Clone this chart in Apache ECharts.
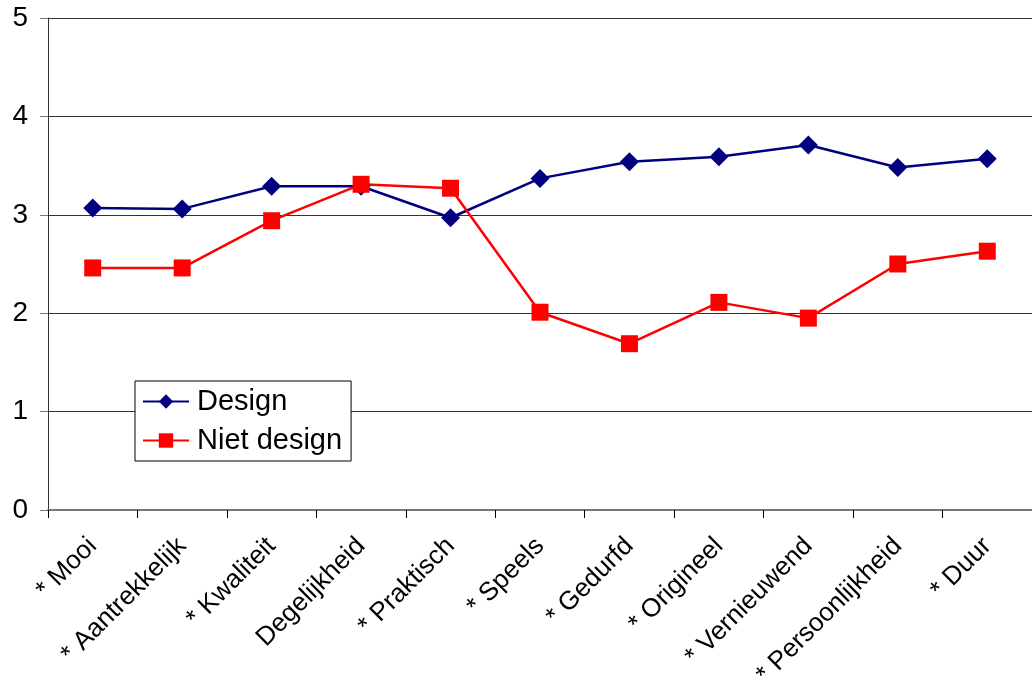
<!DOCTYPE html>
<html>
<head>
<meta charset="utf-8">
<script src="https://cdn.jsdelivr.net/npm/echarts@6/dist/echarts.min.js"></script>
<style>
html, body { margin: 0; padding: 0; background: #fff; }
#container { width: 1032px; height: 686px; }
</style>
</head>
<body>
<div id="container"></div>
<script>
var categories = ['* Mooi', '* Aantrekkelijk', '* Kwaliteit', 'Degelijkheid', '* Praktisch', '* Speels',
    '* Gedurfd', '* Origineel', '* Vernieuwend', '* Persoonlijkheid', '* Duur'];
var designValues = [3.07, 3.06, 3.29, 3.29, 2.97, 3.37, 3.54, 3.59, 3.71, 3.48, 3.57];
var nietDesignValues = [2.46, 2.46, 2.94, 3.31, 3.27, 2.01, 1.69, 2.11, 1.95, 2.50, 2.63];

var dom = document.getElementById("container");
var myChart = echarts.init(dom);

var option = {
    backgroundColor: '#ffffff',
    animation: false,
    textStyle: { fontFamily: 'Liberation Sans, Arial, sans-serif' },
    grid: {
        left: 48,
        right: 0,
        top: 18,
        bottom: 176,
        containLabel: false,
        outerBoundsMode: 'none'
    },
    legend: {
        orient: 'vertical',
        left: 135,
        top: 381,
        width: 214,
        padding: [6, 9, 6, 7],
        itemGap: 10,
        itemWidth: 46,
        itemHeight: 18,
        borderColor: '#000',
        borderWidth: 1,
        backgroundColor: '#fff',
        textStyle: { fontSize: 29, color: '#000', padding: [0, 0, 0, 3], fontFamily: 'Liberation Sans, Arial, sans-serif' },
        data: ['Design', 'Niet design']
    },
    xAxis: {
        type: 'category',
        data: categories,
        boundaryGap: true,
        axisLine: { lineStyle: { color: '#777', width: 2 } },
        axisTick: { show: true, length: 8, lineStyle: { color: '#000' } },
        axisLabel: {
            rotate: 45,
            interval: 0,
            fontSize: 26,
            color: '#000',
            margin: 32
        },
        splitLine: { show: false }
    },
    yAxis: {
        type: 'value',
        min: 0,
        max: 5,
        interval: 1,
        axisLine: { show: true, lineStyle: { color: '#333', width: 1 } },
        axisTick: { show: true, length: 8, lineStyle: { color: '#777' } },
        axisLabel: { fontSize: 28, color: '#000', margin: 20 },
        splitLine: { show: true, lineStyle: { color: '#333', width: 1 } }
    },
    series: [
        {
            name: 'Design',
            type: 'line',
            data: designValues,
            symbol: 'diamond',
            symbolSize: 19,
            lineStyle: { color: '#000080', width: 2.5 },
            itemStyle: { color: '#000080' }
        },
        {
            name: 'Niet design',
            type: 'line',
            data: nietDesignValues,
            symbol: 'rect',
            symbolSize: 17,
            lineStyle: { color: '#ff0000', width: 2.5 },
            itemStyle: { color: '#ff0000' }
        }
    ]
};

if (option && typeof option === "object") {
    myChart.setOption(option, true);
}
</script>
</body>
</html>
